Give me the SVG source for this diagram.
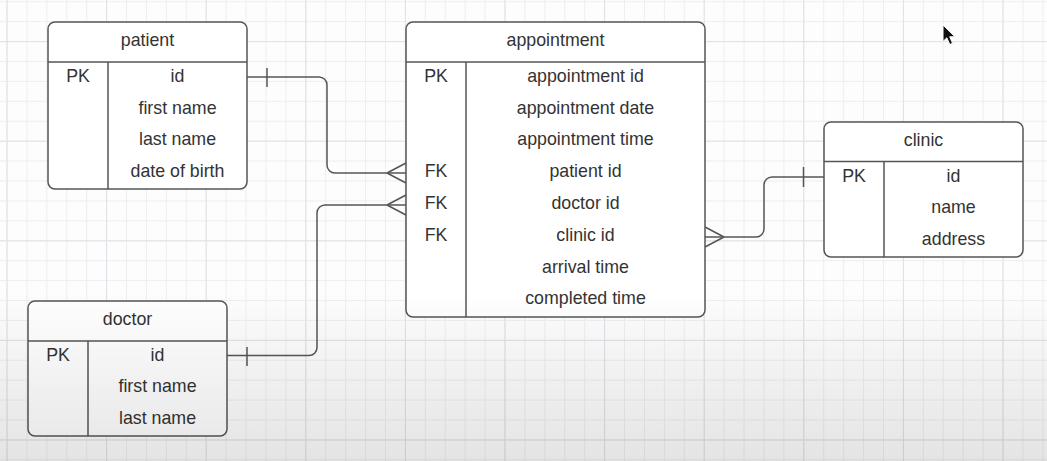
<svg xmlns="http://www.w3.org/2000/svg" width="1047" height="461" viewBox="0 0 1047 461">
<defs>
<pattern id="minor" patternUnits="userSpaceOnUse" x="6.5" y="1.2" width="19.92" height="19.92">
<rect x="0" y="0" width="19.92" height="1" fill="#eeeef2"/>
<rect x="0" y="0" width="1" height="19.92" fill="#eeeef2"/>
</pattern>
<pattern id="major" patternUnits="userSpaceOnUse" x="6.5" y="41.1" width="99.6" height="99.6">
<rect x="0" y="0" width="99.6" height="1" fill="#e0e0e6"/>
<rect x="0" y="0" width="1" height="99.6" fill="#e0e0e6"/>
</pattern>
<linearGradient id="shade" x1="0" y1="0" x2="0" y2="1">
<stop offset="0" stop-color="#000" stop-opacity="0"/>
<stop offset="1" stop-color="#000" stop-opacity="0.1"/>
</linearGradient>
</defs>
<style>
.box{fill:#fff;stroke:#555;stroke-width:1.5}
.ln{fill:none;stroke:#555;stroke-width:1.5}
.t{font-family:"Liberation Sans",Arial,sans-serif;font-size:17.8px;fill:#333;text-anchor:middle}
.c{fill:none;stroke:#555;stroke-width:1.5;stroke-linejoin:round}
</style>
<rect width="1047" height="461" fill="#fdfdfe"/>
<rect width="1047" height="461" fill="url(#minor)"/>
<rect width="1047" height="461" fill="url(#major)"/>

<g id="connectors">
<path class="c" d="M247,77 H319 A8,8 0 0 1 327,85 V165 A8,8 0 0 0 335,173 H406"/>
<path class="c" d="M267,68 V87 M387,173 L406,163 M387,173 L406,183"/>
<path class="c" d="M227,355.5 H309 A8,8 0 0 0 317,347.5 V213 A8,8 0 0 1 325,205 H406"/>
<path class="c" d="M247,347 V366 M387,205 L406,195 M387,205 L406,215"/>
<path class="c" d="M705,237 H756 A8,8 0 0 0 764,229 V185 A8,8 0 0 1 772,177 H824"/>
<path class="c" d="M803.5,167 V187 M724,237 L705,227 M724,237 L705,247"/>
</g>

<g id="patient">
<rect class="box" x="48" y="22" width="199" height="167" rx="7"/>
<path class="ln" d="M48,62 H247 M108,62 V189"/>
<text class="t" x="147.5" y="46">patient</text>
<text class="t" x="78" y="82">PK</text>
<text class="t" x="177.5" y="82">id</text>
<text class="t" x="177.5" y="113.5">first name</text>
<text class="t" x="177.5" y="145">last name</text>
<text class="t" x="177.5" y="177">date of birth</text>
</g>

<g id="appointment">
<rect class="box" x="406" y="22" width="299" height="295" rx="7"/>
<path class="ln" d="M406,62 H705 M466,62 V317"/>
<text class="t" x="555.5" y="46">appointment</text>
<text class="t" x="436" y="82">PK</text>
<text class="t" x="585.5" y="82">appointment id</text>
<text class="t" x="585.5" y="113.5">appointment date</text>
<text class="t" x="585.5" y="145">appointment time</text>
<text class="t" x="436" y="177">FK</text>
<text class="t" x="585.5" y="177">patient id</text>
<text class="t" x="436" y="209">FK</text>
<text class="t" x="585.5" y="209">doctor id</text>
<text class="t" x="436" y="240.5">FK</text>
<text class="t" x="585.5" y="240.5">clinic id</text>
<text class="t" x="585.5" y="272.5">arrival time</text>
<text class="t" x="585.5" y="304">completed time</text>
</g>

<g id="clinic">
<rect class="box" x="824" y="122" width="199" height="135" rx="7"/>
<path class="ln" d="M824,161.5 H1023 M884,161.5 V257"/>
<text class="t" x="923.5" y="145.5">clinic</text>
<text class="t" x="854" y="181.5">PK</text>
<text class="t" x="953.5" y="181.5">id</text>
<text class="t" x="953.5" y="213">name</text>
<text class="t" x="953.5" y="245">address</text>
</g>

<g id="doctor">
<rect class="box" x="28" y="301" width="199" height="135" rx="7"/>
<path class="ln" d="M28,341 H227 M88,341 V436"/>
<text class="t" x="127.5" y="324.5">doctor</text>
<text class="t" x="58" y="360.5">PK</text>
<text class="t" x="157.5" y="360.5">id</text>
<text class="t" x="157.5" y="392">first name</text>
<text class="t" x="157.5" y="424">last name</text>
</g>

<path d="M943,25 L943,41.5 L946.8,37.8 L949.8,44.5 L952.6,43.3 L949.7,36.8 L955,36.8 Z" fill="#111" stroke="#fff" stroke-width="1"/>
<rect x="0" y="290" width="1047" height="171" fill="url(#shade)"/>
</svg>
